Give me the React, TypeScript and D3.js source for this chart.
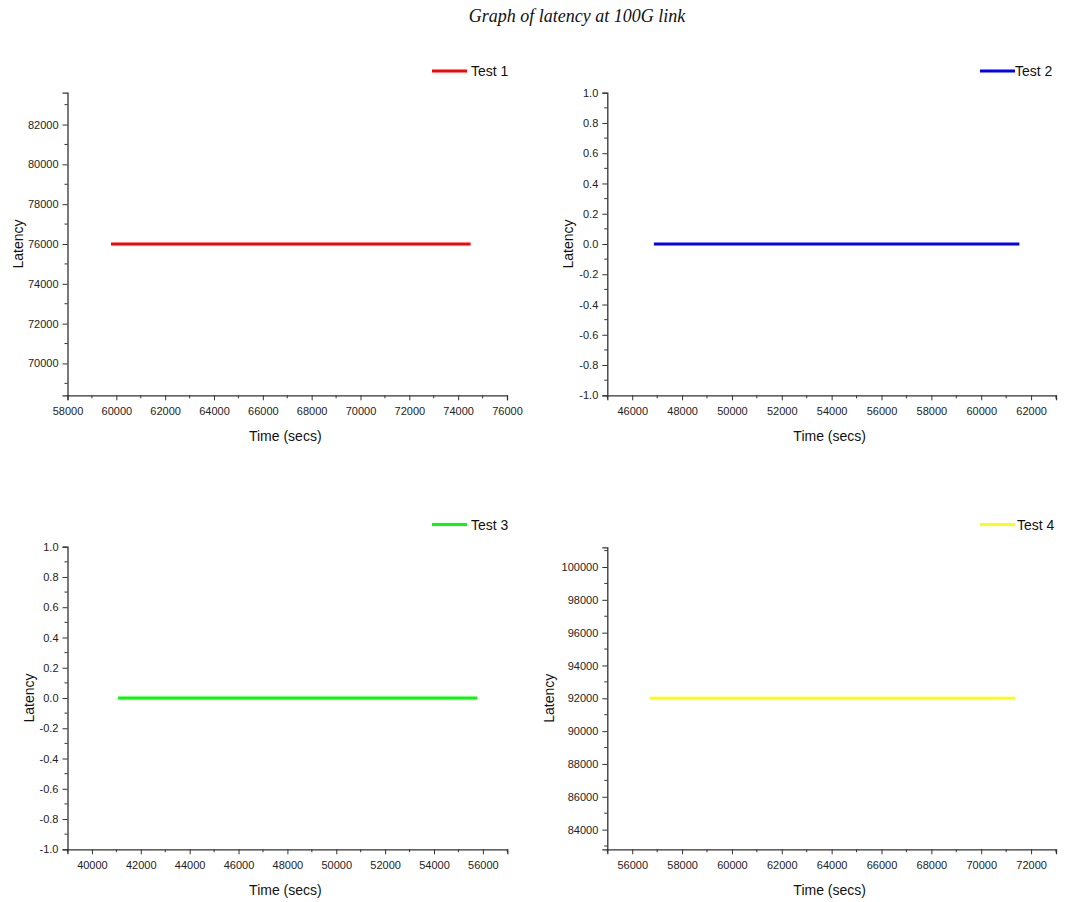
import React, { useEffect, useRef } from 'react';
import * as d3 from 'd3';

// chart title and series labels
const chartTitle = 'Graph of latency at 100G link';
const seriesNames = ['Test 1', 'Test 2', 'Test 3', 'Test 4'];
const seriesColors = ['#ff0000', '#0000ff', '#00ff00', '#ffff00'];

// series values (time in secs, latency)
const test1Time = [59780, 60200, 62000, 64000, 66000, 68000, 70000, 72000, 74000, 74510];
const test1Latency = [76000, 76000, 76000, 76000, 76000, 76000, 76000, 76000, 76000, 76000];
const test2Time = [46870, 47300, 50000, 53000, 56000, 59000, 61530];
const test2Latency = [0, 0, 0, 0, 0, 0, 0];
const test3Time = [41070, 44000, 47000, 50000, 53000, 55770];
const test3Latency = [0, 0, 0, 0, 0, 0];
const test4Time = [56700, 57000, 60000, 63000, 66000, 69000, 71370];
const test4Latency = [92000, 92000, 92000, 92000, 92000, 92000, 92000];

// axis ranges and tick steps
const xDomains: [number, number][] = [[58000, 76000], [45000, 63000], [39000, 57000], [55000, 73000]];
const yDomains: [number, number][] = [[68400, 83600], [-1, 1], [-1, 1], [82800, 101200]];
const xMajorStep = [2000, 2000, 2000, 2000];
const yMajorStep = [2000, 0.2, 0.2, 2000];

const allTimes = [test1Time, test2Time, test3Time, test4Time];
const allLatency = [test1Latency, test2Latency, test3Latency, test4Latency];

// panel boxes in page pixels
const panels = [
  { left: 67.5, top: 92.7, right: 507, bottom: 395.3, legendX: 432, legendY: 71, labelX: 18, gap: 4 },
  { left: 607.3, top: 92.7, right: 1056, bottom: 395.3, legendX: 980, legendY: 71, labelX: 568, gap: 0 },
  { left: 67.5, top: 546.7, right: 507.3, bottom: 849.3, legendX: 432, legendY: 524.5, labelX: 29, gap: 4 },
  { left: 607.3, top: 547.3, right: 1056, bottom: 849.3, legendX: 980, legendY: 524.5, labelX: 549, gap: 2 },
];

const sans = 'Arial, "Liberation Sans", Helvetica, sans-serif';

function ticksBetween(lo: number, hi: number, step: number) {
  const out: number[] = [];
  const start = Math.ceil(lo / step - 1e-9);
  for (let k = start; k * step <= hi + 1e-9; k++) out.push(+(k * step).toFixed(6));
  return out;
}

export default function App() {
  const svgRef = useRef<SVGSVGElement>(null);

  useEffect(() => {
    const svg = d3.select(svgRef.current);
    svg.selectAll('*').remove();

    svg.append('rect').attr('width', 1089).attr('height', 902).attr('fill', '#fff');

    svg.append('text')
      .attr('x', 577)
      .attr('y', 22)
      .attr('text-anchor', 'middle')
      .attr('font-family', '"Liberation Serif", "Times New Roman", serif')
      .attr('font-style', 'italic')
      .attr('font-size', '18px')
      .attr('fill', '#111')
      .text(chartTitle);

    panels.forEach((p, i) => {
      const x = d3.scaleLinear().domain(xDomains[i]).range([p.left, p.right]);
      const y = d3.scaleLinear().domain(yDomains[i]).range([p.bottom, p.top]);
      const g = svg.append('g');

      const small = yMajorStep[i] < 1;
      const fmtY = (v: number) => (small ? v.toFixed(1) : d3.format('d')(v));

      // y axis
      const yMajor = ticksBetween(yDomains[i][0], yDomains[i][1], yMajorStep[i]);
      const yMinor = ticksBetween(yDomains[i][0], yDomains[i][1], yMajorStep[i] / 2)
        .filter(v => !yMajor.some(m => Math.abs(m - v) < 1e-6));
      const yAxis = g.append('g').attr('transform', `translate(${p.left},0)`)
        .call(d3.axisLeft(y).tickValues(yMajor).tickFormat(d => fmtY(+d)).tickSizeOuter(0).tickSize(5).tickPadding(4));
      yAxis.selectAll('text').attr('font-size', '11px').attr('font-family', sans).attr('fill', '#222');
      yAxis.select('.domain').attr('stroke', '#333').attr('stroke-width', 1.3);
      yAxis.selectAll('.tick line').attr('stroke', '#333');
      g.append('g').selectAll('line').data(yMinor).join('line')
        .attr('x1', p.left - 3).attr('x2', p.left)
        .attr('y1', d => y(d)).attr('y2', d => y(d))
        .attr('stroke', '#333');

      // x axis
      const xMajor = ticksBetween(xDomains[i][0], xDomains[i][1], xMajorStep[i]);
      const xMinor = ticksBetween(xDomains[i][0], xDomains[i][1], xMajorStep[i] / 2)
        .filter(v => !xMajor.includes(v));
      const xAxis = g.append('g').attr('transform', `translate(0,${p.bottom})`)
        .call(d3.axisBottom(x).tickValues(xMajor).tickFormat(d => d3.format('d')(+d)).tickSizeOuter(0).tickSize(5).tickPadding(7));
      xAxis.selectAll('text').attr('font-size', '11px').attr('font-family', sans).attr('fill', '#222');
      xAxis.select('.domain').attr('stroke', '#333').attr('stroke-width', 1.3);
      xAxis.selectAll('.tick line').attr('stroke', '#333');
      g.append('g').selectAll('line').data(xMinor).join('line')
        .attr('x1', d => x(d)).attr('x2', d => x(d))
        .attr('y1', p.bottom).attr('y2', p.bottom + 3)
        .attr('stroke', '#333');

      // axis titles
      g.append('text')
        .attr('x', (p.left + p.right) / 2 - 2)
        .attr('y', p.bottom + 46)
        .attr('text-anchor', 'middle')
        .attr('font-family', sans)
        .attr('font-size', '14px')
        .attr('fill', '#111')
        .text('Time (secs)');
      g.append('text')
        .attr('transform', `translate(${p.labelX},${(p.top + p.bottom) / 2}) rotate(-90)`)
        .attr('text-anchor', 'middle')
        .attr('dominant-baseline', 'central')
        .attr('font-family', sans)
        .attr('font-size', '14px')
        .attr('fill', '#111')
        .text('Latency');

      // data line
      const pts = allTimes[i].map((t, k) => [t, allLatency[i][k]] as [number, number]);
      g.append('path')
        .datum(pts)
        .attr('d', d3.line<[number, number]>().x(d => x(d[0])).y(d => y(d[1])))
        .attr('fill', 'none')
        .attr('stroke', seriesColors[i])
        .attr('stroke-width', 3);

      // legend
      g.append('line')
        .attr('x1', p.legendX).attr('x2', p.legendX + 35)
        .attr('y1', p.legendY).attr('y2', p.legendY)
        .attr('stroke', seriesColors[i])
        .attr('stroke-width', 3);
      g.append('text')
        .attr('x', p.legendX + 35 + p.gap)
        .attr('y', p.legendY + 5)
        .attr('font-family', sans)
        .attr('font-size', '14px')
        .attr('fill', '#111')
        .text(seriesNames[i]);
    });
  }, []);

  return (
    <div style={{ position: 'absolute', left: 0, top: 0 }}>
      <svg ref={svgRef} width={1089} height={902} style={{ display: 'block' }} />
    </div>
  );
}
